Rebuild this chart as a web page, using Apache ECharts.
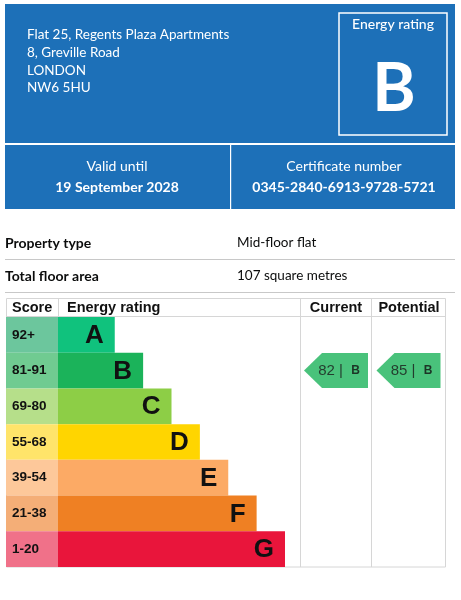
<!DOCTYPE html>
<html>
<head>
<meta charset="utf-8">
<script src="https://cdn.jsdelivr.net/npm/echarts@6/dist/echarts.min.js"></script>
<style>
html,body{margin:0;padding:0;background:#fff;}
#chart{width:461px;height:600px;}
</style>
</head>
<body>
<div id="chart"></div>
<script>
// ---- data ----
const addressLines = ['Flat 25, Regents Plaza Apartments', '8, Greville Road', 'LONDON', 'NW6 5HU'];
const ratingLetter = 'B';
const validUntil = '19 September 2028';
const certificateNumber = '0345-2840-6913-9728-5721';
const propertyLabels = ['Property type', 'Total floor area'];
const propertyValues = ['Mid-floor flat', '107 square metres'];
const bands = ['A', 'B', 'C', 'D', 'E', 'F', 'G'];
const scoreRanges = ['92+', '81-91', '69-80', '55-68', '39-54', '21-38', '1-20'];
const bandMinScores = [92, 81, 69, 55, 39, 21, 1];
const barLengths = [2, 3, 4, 5, 6, 7, 8];
const currentScore = 82;
const potentialScore = 85;
const headers = ['Score', 'Energy rating', 'Current', 'Potential'];

const barColors = ['#10c27d', '#1bb35a', '#8dce46', '#ffd500', '#fcaa65', '#ef8023', '#e9153b'];
const scoreColors = ['#6cc69d', '#70cb91', '#b6df8a', '#ffe46a', '#fdc89a', '#f4ae77', '#f07189'];

function bandOf(score) {
  for (let i = 0; i < bandMinScores.length; i++) if (score >= bandMinScores[i]) return bands[i];
  return bands[bands.length - 1];
}

const BLUE = '#1d70b8';
const GREY = '#d6d6d6';
const TXT = '#0b0c0c';
const UI = 'Lato, "Noto Sans", sans-serif';
const AR = '"Liberation Sans", Arial, sans-serif';

const chart = echarts.init(document.getElementById('chart'), null, {renderer: 'canvas'});

const TOP = 317, H = 250;
function catAxis(gi) {
  return {gridIndex: gi, type: 'category', data: bands, inverse: true, show: false};
}
function valAxis(gi, max) {
  return {gridIndex: gi, type: 'value', min: 0, max: max, show: false};
}

const arrowPath = 'path://M0,18 L18,0 L64,0 L64,36 L18,36 Z';

function arrowSeries(gi, score) {
  const b = bandOf(score);
  return {
    type: 'scatter', xAxisIndex: gi, yAxisIndex: gi,
    symbol: arrowPath, symbolSize: [64, 35], symbolKeepAspect: false,
    itemStyle: {color: barColors[bands.indexOf(b)]},
    data: [[0.5, b]],
    label: {
      show: true, position: 'inside', offset: [3, 0],
      formatter: score + ' |  {b|' + b + '}',
      fontFamily: AR, fontSize: 15, color: '#1a1a1a',
      rich: {b: {fontFamily: AR, fontSize: 12, fontWeight: 'bold', color: '#111'}}
    },
    silent: true
  };
}

const graphics = [];
// top blue panels
graphics.push({type: 'rect', shape: {x: 5, y: 4, width: 450, height: 139}, style: {fill: BLUE}});
graphics.push({type: 'rect', shape: {x: 5, y: 145, width: 450, height: 64}, style: {fill: BLUE}});
graphics.push({type: 'rect', shape: {x: 230, y: 145, width: 1.2, height: 64}, style: {fill: '#ffffff'}});
// rating box
graphics.push({type: 'rect', shape: {x: 339, y: 13, width: 108, height: 122}, style: {fill: 'none', stroke: '#ffffff', lineWidth: 1.5}});
graphics.push({type: 'text', x: 393, y: 24, style: {text: 'Energy rating', fill: '#fff', font: '500 14px ' + UI, align: 'center', verticalAlign: 'middle'}});
graphics.push({type: 'text', x: 394, y: 90, style: {text: ratingLetter, fill: '#fff', font: 'bold 66px ' + UI, align: 'center', verticalAlign: 'middle'}});
addressLines.forEach((t, i) => {
  graphics.push({type: 'text', x: 27, y: 35 + i * 17.7, style: {text: t, fill: '#fff', font: '13.5px ' + UI, verticalAlign: 'middle'}});
});
graphics.push({type: 'text', x: 117, y: 166, style: {text: 'Valid until', fill: '#fff', font: '14px ' + UI, align: 'center', verticalAlign: 'middle'}});
graphics.push({type: 'text', x: 117, y: 187, style: {text: validUntil, fill: '#fff', font: 'bold 14px ' + UI, align: 'center', verticalAlign: 'middle'}});
graphics.push({type: 'text', x: 344, y: 166, style: {text: 'Certificate number', fill: '#fff', font: '14px ' + UI, align: 'center', verticalAlign: 'middle'}});
graphics.push({type: 'text', x: 344, y: 187, style: {text: certificateNumber, fill: '#fff', font: 'bold 14px ' + UI, align: 'center', verticalAlign: 'middle'}});
// property rows
propertyLabels.forEach((t, i) => {
  const y = 243 + i * 33;
  graphics.push({type: 'text', x: 5, y: y, style: {text: t, fill: TXT, font: 'bold 14px ' + UI, verticalAlign: 'middle'}});
  graphics.push({type: 'text', x: 237, y: y, style: {text: propertyValues[i], fill: TXT, font: '13.5px ' + UI, verticalAlign: 'middle'}});
  graphics.push({type: 'rect', shape: {x: 5, y: y + 16, width: 450, height: 1}, style: {fill: '#c8c8c8'}});
});
// table frame
graphics.push({type: 'rect', shape: {x: 6.5, y: 298.5, width: 439, height: 268.5}, style: {fill: 'none', stroke: GREY, lineWidth: 1}});
graphics.push({type: 'line', shape: {x1: 6, y1: 316.5, x2: 446, y2: 316.5}, style: {stroke: GREY, lineWidth: 1}});
graphics.push({type: 'line', shape: {x1: 58.5, y1: 298, x2: 58.5, y2: 317}, style: {stroke: GREY, lineWidth: 1}});
graphics.push({type: 'line', shape: {x1: 300.5, y1: 298, x2: 300.5, y2: 567}, style: {stroke: GREY, lineWidth: 1}});
graphics.push({type: 'line', shape: {x1: 371.5, y1: 298, x2: 371.5, y2: 567}, style: {stroke: GREY, lineWidth: 1}});
const hx = [12, 67, 336, 409];
headers.forEach((t, i) => {
  graphics.push({type: 'text', x: hx[i], y: 308, style: {text: t, fill: '#111', font: 'bold 14.5px ' + AR, align: i >= 2 ? 'center' : 'left', verticalAlign: 'middle'}});
});

const option = {
  animation: false,
  backgroundColor: '#ffffff',
  grid: [
    {left: 6, top: TOP, width: 52, height: H},
    {left: 58, top: TOP, width: 227, height: H},
    {left: 301, top: TOP, width: 70, height: H},
    {left: 372, top: TOP, width: 73, height: H}
  ],
  xAxis: [valAxis(0, 1), valAxis(1, 8), valAxis(2, 1), valAxis(3, 1)],
  yAxis: [catAxis(0), catAxis(1), catAxis(2), catAxis(3)],
  series: [
    {
      type: 'bar', xAxisIndex: 0, yAxisIndex: 0, barWidth: '100%',
      data: scoreRanges.map((s, i) => ({value: 1, itemStyle: {color: scoreColors[i]}, label: {formatter: s}})),
      label: {show: true, position: 'insideLeft', distance: 6, fontFamily: AR, fontWeight: 'bold', fontSize: 13.5, color: '#111'},
      silent: true
    },
    {
      type: 'bar', xAxisIndex: 1, yAxisIndex: 1, barWidth: '100%',
      data: barLengths.map((v, i) => ({value: v, itemStyle: {color: barColors[i]}})),
      label: {show: true, position: 'insideRight', distance: 5, offset: [-6, 1], formatter: p => bands[p.dataIndex],
        fontFamily: AR, fontWeight: 'bold', fontSize: 26, color: '#111'},
      silent: true
    },
    arrowSeries(2, currentScore),
    arrowSeries(3, potentialScore)
  ],
  graphic: graphics
};
chart.setOption(option);
</script>
</body>
</html>
